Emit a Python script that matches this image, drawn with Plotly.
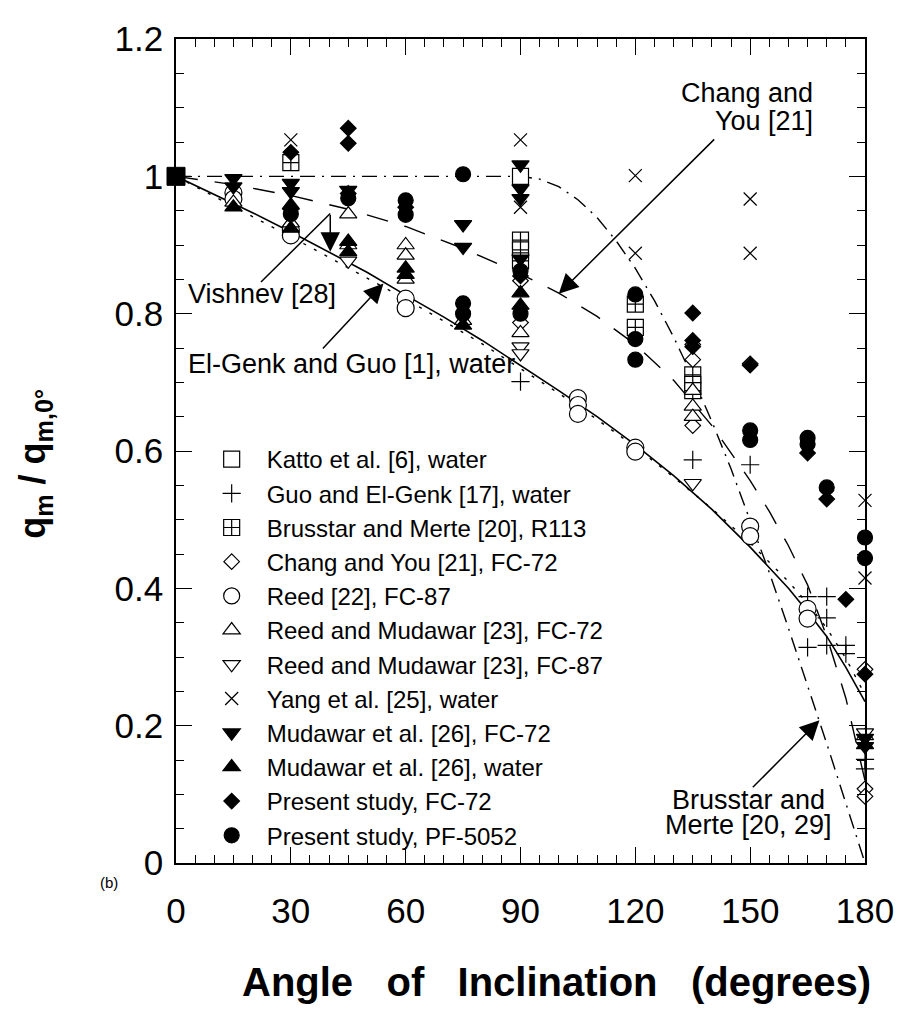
import plotly.graph_objects as go

FONT = "Liberation Sans, Arial, Helvetica, sans-serif"

# ---------------- correlation curves ----------------
elgenk_deg = [0, 10, 20, 30, 40, 50, 60, 70, 80, 90, 100, 110, 120, 130, 140, 150, 160, 165, 170, 175, 180]
elgenk_val = [1.0, 0.974, 0.947, 0.919, 0.89, 0.86, 0.827, 0.795, 0.761, 0.725, 0.688, 0.65, 0.609, 0.564,
              0.515, 0.46, 0.40, 0.366, 0.33, 0.285, 0.235]

vishnev_deg = [0, 10, 20, 30, 40, 50, 60, 70, 80, 90, 100, 110, 120, 130, 140, 150, 160, 165, 170, 175, 180]
vishnev_val = [1.0, 0.971, 0.941, 0.912, 0.882, 0.852, 0.821, 0.789, 0.756, 0.72, 0.684, 0.646, 0.606, 0.562,
               0.516, 0.466, 0.41, 0.378, 0.342, 0.298, 0.245]

chang_c_deg = [0, 15, 30, 45, 60, 75, 90, 100, 110, 120, 130, 140, 150, 155, 160, 165, 170, 175, 180]
chang_c_val = [1.0, 0.988, 0.972, 0.952, 0.927, 0.895, 0.858, 0.83, 0.796, 0.755, 0.703, 0.637, 0.557, 0.512,
               0.462, 0.405, 0.33, 0.24, 0.12]

brus_c_deg = [0, 90, 95, 100, 105, 110, 115, 120, 125, 130, 135, 140, 145, 150, 155, 160, 165, 170, 175, 180]
brus_c_val = [1.0, 1.0, 0.996, 0.985, 0.966, 0.94, 0.906, 0.866, 0.819, 0.766, 0.707, 0.643, 0.574, 0.5,
              0.423, 0.342, 0.259, 0.174, 0.087, 0.0]

# ---------------- data points ----------------
ref_deg = [0]
ref_val = [1.0]

katto_deg = [90]
katto_val = [1.0]

guo_deg = [90, 135, 150, 165, 165, 170, 170, 170, 175, 175, 180, 180]
guo_val = [0.701, 0.587, 0.58, 0.388, 0.314, 0.388, 0.357, 0.317, 0.317, 0.305, 0.151, 0.137]

brus_deg = [30, 90, 90, 90, 120, 120, 135, 135, 135]
brus_val = [1.02, 0.907, 0.893, 0.877, 0.814, 0.78, 0.711, 0.697, 0.688]

chang_deg = [90, 90, 135, 135, 135, 150, 180, 180, 180]
chang_val = [0.848, 0.787, 0.755, 0.733, 0.637, 0.727, 0.282, 0.108, 0.097]

reed_deg = [15, 15, 30, 30, 60, 60, 105, 105, 105, 120, 120, 150, 150, 165, 165]
reed_val = [0.976, 0.967, 0.922, 0.914, 0.822, 0.808, 0.677, 0.667, 0.654, 0.605, 0.599, 0.49, 0.476, 0.37, 0.356]

rm72_deg = [15, 30, 45, 45, 60, 60, 60, 75, 90, 135, 135, 135, 180]
rm72_val = [0.962, 0.932, 0.945, 0.9, 0.9, 0.885, 0.85, 0.79, 0.772, 0.688, 0.665, 0.65, 0.185]

rm87_deg = [45, 90, 90, 135, 180]
rm87_val = [0.877, 0.752, 0.742, 0.553, 0.19]

yang_deg = [30, 45, 60, 90, 90, 120, 120, 150, 150, 180, 180]
yang_val = [1.053, 0.975, 0.96, 1.053, 0.955, 1.001, 0.888, 0.967, 0.888, 0.528, 0.415]

mud72_deg = [15, 15, 30, 30, 45, 75, 75, 90, 90, 90, 90, 180, 180]
mud72_val = [0.997, 0.985, 0.99, 0.978, 0.98, 0.93, 0.897, 1.017, 0.982, 0.968, 0.88, 0.182, 0.17]

mudw_deg = [15, 30, 30, 45, 45, 60, 60, 75, 90, 90, 180]
mudw_val = [0.955, 0.958, 0.924, 0.905, 0.89, 0.866, 0.857, 0.783, 0.83, 0.812, 0.172]

pfc72_deg = [30, 30, 45, 45, 45, 60, 90, 135, 135, 135, 150, 165, 170, 175, 180]
pfc72_val = [1.035, 0.952, 1.07, 1.048, 0.975, 0.955, 0.855, 0.801, 0.761, 0.752, 0.725, 0.597, 0.53, 0.384, 0.275]

ppf_deg = [30, 45, 60, 60, 75, 75, 75, 90, 90, 120, 120, 120, 150, 150, 165, 165, 170, 180, 180]
ppf_val = [0.945, 0.968, 0.965, 0.944, 1.003, 0.815, 0.8, 0.862, 0.8, 0.828, 0.763, 0.733, 0.63, 0.616,
           0.619, 0.61, 0.547, 0.474, 0.444]

x_tickvals = [0, 30, 60, 90, 120, 150, 180]
x_ticktext = ["0", "30", "60", "90", "120", "150", "180"]
y_tickvals = [0, 0.2, 0.4, 0.6, 0.8, 1.0, 1.2]
y_ticktext = ["0", "0.2", "0.4", "0.6", "0.8", "1", "1.2"]

fig = go.Figure()

# curves
fig.add_trace(go.Scatter(x=elgenk_deg, y=elgenk_val, mode="lines", showlegend=False,
                         line=dict(color="black", width=1.6)))
fig.add_trace(go.Scatter(x=vishnev_deg, y=vishnev_val, mode="lines", showlegend=False,
                         line=dict(color="black", width=1.4, dash="3px,9px")))
fig.add_trace(go.Scatter(x=chang_c_deg, y=chang_c_val, mode="lines", showlegend=False,
                         line=dict(color="black", width=1.4, dash="22px,17px")))
fig.add_trace(go.Scatter(x=brus_c_deg, y=brus_c_val, mode="lines", showlegend=False,
                         line=dict(color="black", width=1.4, dash="15px,7px,2px,7px")))

series = [
    ("Katto et al. [6], water", "square", "white", 16, katto_deg, katto_val),
    ("Guo and El-Genk [17], water", "cross-thin", "black", 13, guo_deg, guo_val),
    ("Brusstar and Merte [20], R113", "square-cross", "white", 16, brus_deg, brus_val),
    ("Chang and You [21], FC-72", "diamond", "white", 12, chang_deg, chang_val),
    ("Reed [22], FC-87", "circle", "white", 17, reed_deg, reed_val),
    ("Reed and Mudawar [23], FC-72", "triangle-up", "white", 15, rm72_deg, rm72_val),
    ("Reed and Mudawar [23], FC-87", "triangle-down", "white", 15, rm87_deg, rm87_val),
    ("Yang et al. [25], water", "x-thin", "black", 13, yang_deg, yang_val),
    ("Mudawar et al. [26], FC-72", "triangle-down", "black", 15, mud72_deg, mud72_val),
    ("Mudawar et al. [26], water", "triangle-up", "black", 15, mudw_deg, mudw_val),
    ("Present study, FC-72", "diamond", "black", 12, pfc72_deg, pfc72_val),
    ("Present study, PF-5052", "circle", "black", 15, ppf_deg, ppf_val),
]

for name, sym, fill, size, xs, ys in series:
    fig.add_trace(go.Scatter(
        x=xs, y=ys, mode="markers", name=name, cliponaxis=False,
        marker=dict(symbol=sym, size=size, color=fill,
                    line=dict(color="black", width=1.2)),
    ))

fig.add_trace(go.Scatter(x=ref_deg, y=ref_val, mode="markers", showlegend=False, cliponaxis=False,
                         marker=dict(symbol="square", size=18, color="black",
                                     line=dict(color="black", width=1))))

axis_common = dict(
    showline=True, linecolor="black", linewidth=1.5, mirror="ticks",
    ticks="inside", ticklen=16, tickwidth=1.4, tickcolor="black",
    showgrid=False, zeroline=False, ticklabeloverflow="allow",
    tickfont=dict(family=FONT, size=35, color="black"),
)

fig.update_xaxes(range=[0, 180], tickvals=x_tickvals, ticktext=x_ticktext,
                 minor=dict(dtick=5, ticks="inside", ticklen=8, tickwidth=1.2, tickcolor="black"),
                 ticklabelstandoff=16, **axis_common)
fig.update_yaxes(range=[0, 1.2], tickvals=y_tickvals, ticktext=y_ticktext,
                 minor=dict(dtick=0.05, ticks="inside", ticklen=8, tickwidth=1.2, tickcolor="black"),
                 ticklabelstandoff=4, **axis_common)

ann_font = dict(family=FONT, size=27, color="black")
arrow_style = dict(showarrow=True, arrowhead=2, arrowsize=2.6, arrowwidth=1.5, arrowcolor="black",
                   axref="x", ayref="y", xref="x", yref="y", text="", standoff=0)

nb = "\u00a0\u00a0\u00a0"

annotations = [
    # labels
    dict(x=2.6, y=0.829, xref="x", yref="y", text="Vishnev [28]", showarrow=False,
         xanchor="left", yanchor="middle", font=ann_font),
    dict(x=2.6, y=0.727, xref="x", yref="y", text="El-Genk and Guo [1], water", showarrow=False,
         xanchor="left", yanchor="middle", font=ann_font),
    dict(x=167.0, y=1.121, xref="x", yref="y", text="Chang and", showarrow=False,
         xanchor="right", yanchor="middle", font=ann_font),
    dict(x=167.0, y=1.081, xref="x", yref="y", text="You [21]", showarrow=False,
         xanchor="right", yanchor="middle", font=ann_font),
    dict(x=149.5, y=0.092, xref="x", yref="y", text="Brusstar and", showarrow=False,
         xanchor="center", yanchor="middle", font=ann_font),
    dict(x=149.5, y=0.056, xref="x", yref="y", text="Merte [20, 29]", showarrow=False,
         xanchor="center", yanchor="middle", font=ann_font),
    # arrows
    dict(x=100.0, y=0.829, ax=141.0, ay=1.056, **arrow_style),
    dict(x=54.2, y=0.844, ax=38.0, ay=0.747, **arrow_style),
    dict(x=168.1, y=0.208, ax=150.3, ay=0.108, **arrow_style),
    dict(x=40.3, y=0.89, ax=40.3, ay=0.946, **arrow_style),
    # axis titles and panel tag
    dict(x=0.552, y=-0.1445, xref="paper", yref="paper", showarrow=False,
         text="Angle" + nb + "of" + nb + "Inclination" + nb + "(degrees)",
         xanchor="center", yanchor="middle",
         font=dict(family=FONT, size=40, color="black", weight="bold")),
    dict(x=-0.204, y=0.485, xref="paper", yref="paper", showarrow=False, textangle=-90,
         text="q<sub>m</sub>\u00a0/\u00a0q<sub>m,0°</sub>", xanchor="center", yanchor="middle",
         font=dict(family=FONT, size=36, color="black", weight="bold")),
    dict(x=-0.0976, y=-0.0237, xref="paper", yref="paper", showarrow=False, text="(b)",
         xanchor="center", yanchor="middle", font=dict(family=FONT, size=15, color="black")),
]

shapes = [
    dict(type="line", xref="x", yref="y", x0=22.2, y0=0.846, x1=40.3, y1=0.946,
         line=dict(color="black", width=1.5)),
]

# page body keeps an 8px margin, so the figure is offset by 8px and sized to fit the window
fig.update_layout(
    width=897, height=1015,
    margin=dict(l=168, r=32, t=11, b=160),
    paper_bgcolor="white", plot_bgcolor="white",
    font=dict(family=FONT, color="black"),
    showlegend=True,
    legend=dict(x=0.03, y=0.517, xanchor="left", yanchor="top", bgcolor="rgba(0,0,0,0)",
                borderwidth=0, itemwidth=60, font=dict(family=FONT, size=24, color="black"),
                tracegroupgap=0),
    annotations=annotations,
    shapes=shapes,
)

fig.write_html("out.html")
